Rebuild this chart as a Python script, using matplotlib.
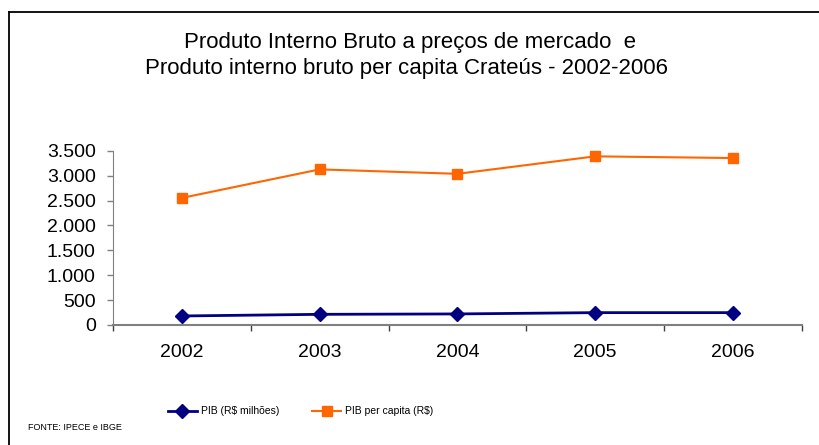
import numpy as np
import matplotlib
matplotlib.use("Agg")
from matplotlib import pyplot as plt
from matplotlib.lines import Line2D

plt.rcParams['font.family'] = ['Liberation Sans', 'DejaVu Sans']

anos = ['2002', '2003', '2004', '2005', '2006']
pib_milhoes = [181, 214, 222, 248, 248]
pib_per_capita = [2552, 3125, 3036, 3387, 3353]
yticks = [0, 500, 1000, 1500, 2000, 2500, 3000, 3500]
ylabels = ['0', '500', '1.000', '1.500', '2.000', '2.500', '3.000', '3.500']

fig = plt.figure(figsize=(8.19, 4.45), dpi=100)
ax = fig.add_axes([0.138, 0.2697, 0.841, 0.3916])

x = np.arange(len(anos))
ax.plot(x, pib_milhoes, color='#000080', lw=2, marker='D', ms=7.5,
        label='PIB (R$ milhões)', clip_on=False)
ax.plot(x, pib_per_capita, color='#FF6600', lw=1.5, marker='s', ms=7.5,
        label='PIB per capita (R$)', clip_on=False)

ax.set_xlim(-0.5, 4.5)
ax.set_ylim(0, 3500)
ax.set_yticks(yticks)
ax.set_yticklabels(ylabels, fontsize=14)
ax.set_xticks(x)
ax.set_xticklabels(anos, fontsize=14)
ax.set_xticks(np.arange(-0.5, 5, 1), minor=True)
ax.tick_params(axis='x', which='major', length=0, pad=14)
ax.tick_params(axis='x', which='minor', length=4.5, width=1, color='#404040')
ax.tick_params(axis='y', length=4.5, width=1, color='#808080', pad=8)

for s in ['top', 'right']:
    ax.spines[s].set_visible(False)
ax.spines['left'].set_color('#808080')
ax.spines['bottom'].set_color('#808080')
ax.spines['bottom'].set_linewidth(1.5)

fig.text(0.5, 0.905, 'Produto Interno Bruto a preços de mercado  e', ha='center',
         va='center', fontsize=16)
fig.text(0.496, 0.847, 'Produto interno bruto per capita Crateús - 2002-2006',
         ha='center', va='center', fontsize=16)

narrow = ['Liberation Sans Narrow', 'Liberation Sans', 'DejaVu Sans']
fig.legend(loc='center', bbox_to_anchor=(0.367, 0.076), ncol=2, frameon=False,
           prop={'family': narrow, 'size': 7.5}, handlelength=2.8,
           columnspacing=3.2, handletextpad=0.35)

fig.text(0.034, 0.04, 'FONTE: IPECE e IBGE', fontsize=6.5, family=narrow,
         va='center')

# moldura
fig.add_artist(Line2D([0.011, 1.0], [0.973, 0.973], color='black', lw=1.3,
                      transform=fig.transFigure))
fig.add_artist(Line2D([0.011, 0.011], [0.0, 0.973], color='black', lw=1.3,
                      transform=fig.transFigure))

fig.savefig('out.png', dpi=100)
